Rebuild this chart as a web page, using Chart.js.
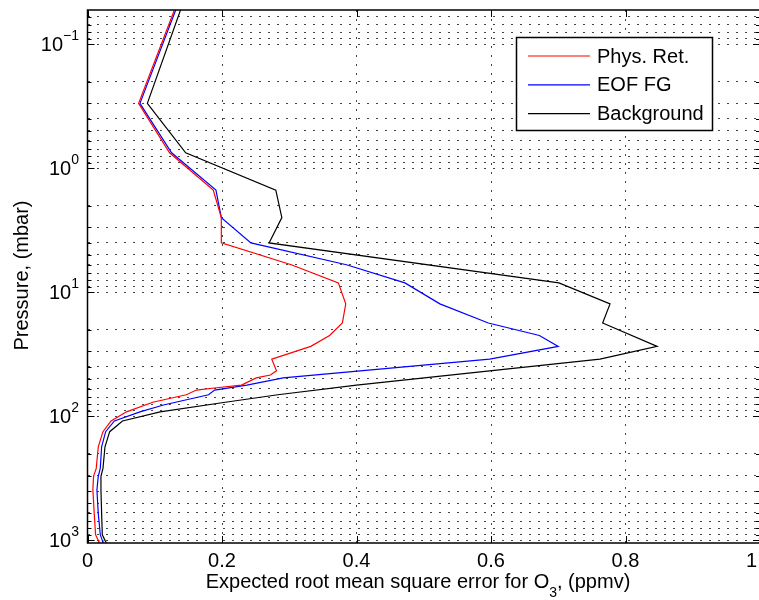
<!DOCTYPE html>
<html>
<head>
<meta charset="utf-8">
<script src="https://cdn.jsdelivr.net/npm/chart.js@4.4.1/dist/chart.umd.min.js"></script>
<style>
  html, body { margin: 0; padding: 0; background: #fff; overflow: hidden; }
  #wrap { width: 800px; height: 600px; }
</style>
</head>
<body>
<div id="wrap"><canvas id="chart" width="800" height="600"></canvas></div>
<script>
// pressure levels (mbar), shared by the three profiles
const pressure = [0.05, 0.3, 0.75, 1.5, 2.5, 4, 6, 8.4, 12.4, 17.7, 22.3, 27.3, 34.6, 43, 46.4, 49,
  56, 58.8, 61.4, 67, 77, 81, 92, 109, 133, 176, 263, 305, 393, 606, 900, 1000, 1050];

// expected rms error for O3 (ppmv), null = no vertex at that level
const physRet = [0.131, 0.076, 0.122, 0.187, 0.199, 0.199, 0.303, 0.373, 0.384, 0.379, 0.360, 0.332, 0.274, 0.281, 0.272, 0.251,
  0.229, 0.192, 0.162, 0.147, 0.097, null, 0.058, 0.035, 0.023, 0.016, 0.013, 0.009, 0.008, 0.010, 0.012, 0.016, 0.017];
const eofFg = [0.133, 0.078, 0.125, 0.191, 0.199, 0.243, 0.385, 0.472, 0.524, 0.596, 0.672, 0.700, 0.598, null, null, 0.291,
  0.237, null, 0.189, 0.180, null, 0.113, 0.078, 0.040, 0.027, 0.021, 0.019, 0.016, 0.014, 0.016, 0.019, 0.022, 0.023];
const background = [0.140, 0.089, 0.146, 0.280, 0.289, 0.270, null, 0.701, 0.777, 0.766, null, 0.847, 0.762, 0.598, null, null,
  0.400, null, null, 0.283, 0.205, null, 0.108, 0.052, 0.033, 0.026, 0.023, 0.020, 0.020, 0.021, 0.022, 0.026, 0.028];

const seriesNames = ['Phys. Ret.', 'EOF FG', 'Background'];
const seriesColors = ['#ff0000', '#0000ff', '#000000'];

// axis ticks
const xTicks = [0, 0.2, 0.4, 0.6, 0.8, 1];
const decadeTicks = [0.1, 1, 10, 100, 1000];
const decadeLabels = ['−1', '0', '1', '2', '3'];

const xTitle = ['Expected root mean square error for O', '3', ', (ppmv)'];
const yTitle = 'Pressure, (mbar)';

const FONT = '"Liberation Sans", Arial, Helvetica, sans-serif';

function toPoints(values) {
  return pressure.map((p, i) => ({ x: values[i], y: p }));
}

// every 1..9 x 10^n line of the log axis (minor grid)
function logGridValues(min, max) {
  const vals = [];
  for (let e = -2; e <= 3; e++) {
    for (let m = 1; m <= 9; m++) {
      const v = +(m * Math.pow(10, e)).toPrecision(3);
      if (v >= min && v <= max) vals.push(v);
    }
  }
  return vals;
}

// frame, inward ticks, tick labels, titles and legend in the matlab style
const matlabDecor = {
  id: 'matlabDecor',
  afterDraw(chart) {
    const ctx = chart.ctx;
    const a = chart.chartArea;
    const xs = chart.scales.x;
    const ys = chart.scales.y;
    ctx.save();

    // box
    ctx.strokeStyle = '#000';
    ctx.lineWidth = 1.5;
    ctx.strokeRect(a.left, a.top, a.right - a.left, a.bottom - a.top);

    // inward ticks
    ctx.lineWidth = 1;
    ctx.beginPath();
    ys.ticks.forEach(t => {
      const py = Math.round(ys.getPixelForValue(t.value)) + 0.5;
      const len = decadeTicks.includes(t.value) ? 7 : 4;
      ctx.moveTo(a.left, py); ctx.lineTo(a.left + len, py);
      ctx.moveTo(a.right, py); ctx.lineTo(a.right - len, py);
    });
    xTicks.forEach(v => {
      const px = Math.round(xs.getPixelForValue(v)) + 0.5;
      ctx.moveTo(px, a.bottom); ctx.lineTo(px, a.bottom - 7);
      ctx.moveTo(px, a.top); ctx.lineTo(px, a.top + 7);
    });
    ctx.stroke();

    // y tick labels 10^n
    ctx.fillStyle = '#000';
    ctx.textBaseline = 'middle';
    decadeTicks.forEach((v, i) => {
      const py = ys.getPixelForValue(v);
      ctx.font = '14px ' + FONT;
      const ew = ctx.measureText(decadeLabels[i]).width;
      ctx.textAlign = 'left';
      ctx.fillText(decadeLabels[i], 79 - ew, py - 8);
      ctx.font = '20px ' + FONT;
      ctx.textAlign = 'right';
      ctx.fillText('10', 79 - ew, py + 1);
    });

    // x title with subscript
    ctx.textBaseline = 'alphabetic';
    ctx.textAlign = 'left';
    ctx.font = '20px ' + FONT;
    const w1 = ctx.measureText(xTitle[0]).width;
    const w3 = ctx.measureText(xTitle[2]).width;
    ctx.font = '14px ' + FONT;
    const w2 = ctx.measureText(xTitle[1]).width;
    let tx = 418 - (w1 + w2 + w3) / 2;
    ctx.font = '20px ' + FONT;
    ctx.fillText(xTitle[0], tx, 588);
    ctx.font = '14px ' + FONT;
    ctx.fillText(xTitle[1], tx + w1, 597);
    ctx.font = '20px ' + FONT;
    ctx.fillText(xTitle[2], tx + w1 + w2, 588);

    // y title
    ctx.save();
    ctx.translate(28, (a.top + a.bottom) / 2 - 1);
    ctx.rotate(-Math.PI / 2);
    ctx.textAlign = 'center';
    ctx.fillText(yTitle, 0, 0);
    ctx.restore();

    // legend
    const lx = 516.5, ly = 37.5, lw = 196, lh = 93;
    ctx.fillStyle = '#fff';
    ctx.fillRect(lx, ly, lw, lh);
    ctx.strokeStyle = '#000';
    ctx.lineWidth = 1.5;
    ctx.strokeRect(lx, ly, lw, lh);
    ctx.font = '20px ' + FONT;
    ctx.textBaseline = 'middle';
    ctx.textAlign = 'left';
    chart.data.datasets.forEach((ds, i) => {
      const rowY = 56 + i * 28.8;
      ctx.strokeStyle = ds.borderColor;
      ctx.lineWidth = 1.2;
      ctx.beginPath();
      ctx.moveTo(528, rowY); ctx.lineTo(590, rowY);
      ctx.stroke();
      ctx.fillStyle = '#000';
      ctx.fillText(ds.label, 597, rowY + 1);
    });

    ctx.restore();
  }
};

const gridStyle = { color: '#444', lineWidth: 1, drawTicks: false };

new Chart(document.getElementById('chart'), {
  type: 'scatter',
  data: {
    datasets: [physRet, eofFg, background].map((vals, i) => ({
      label: seriesNames[i],
      data: toPoints(vals),
      showLine: true,
      spanGaps: true,
      borderColor: seriesColors[i],
      backgroundColor: seriesColors[i],
      borderWidth: 1.2,
      pointRadius: 0,
      tension: 0
    }))
  },
  options: {
    responsive: false,
    animation: false,
    layout: { padding: { top: 10, right: 40, left: 0, bottom: 0 } },
    plugins: {
      legend: { display: false },
      tooltip: { enabled: false }
    },
    scales: {
      x: {
        type: 'linear',
        min: 0,
        max: 1,
        afterBuildTicks: s => { s.ticks = xTicks.map(v => ({ value: v })); },
        afterFit: s => { s.height = 57; },
        ticks: { color: '#000', font: { family: FONT, size: 20 }, padding: 6, maxRotation: 0 },
        grid: gridStyle,
        border: { display: false, dash: [2, 7] }
      },
      y: {
        type: 'logarithmic',
        reverse: true,
        min: 0.053,
        max: 1050,
        afterBuildTicks: s => { s.ticks = logGridValues(0.053, 1050).map(v => ({ value: v })); },
        afterFit: s => { s.width = 87.5; },
        ticks: { display: false },
        grid: gridStyle,
        border: { display: false, dash: [2, 7] }
      }
    }
  },
  plugins: [matlabDecor]
});
</script>
</body>
</html>
